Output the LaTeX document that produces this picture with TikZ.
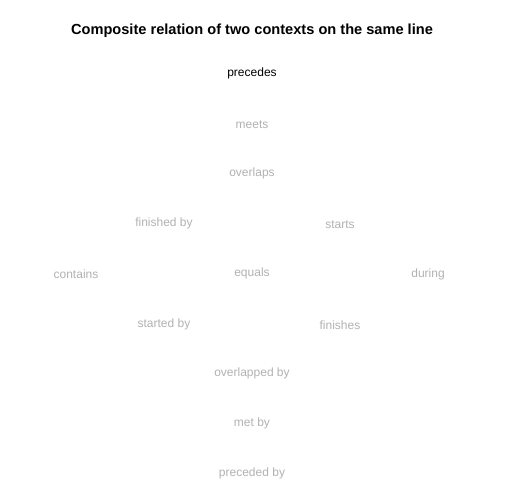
\documentclass[tikz,border=0pt]{standalone}
\usepackage{fontspec}
\setmainfont{Liberation Sans}
\definecolor{lbl}{RGB}{178,178,178}
\begin{document}
\begin{tikzpicture}[x=1bp,y=-1bp,
  rel/.style={font=\fontsize{12bp}{14bp}\selectfont, text=lbl, inner sep=0pt},
  ttl/.style={font=\fontsize{14.6bp}{17bp}\selectfont\bfseries, inner sep=0pt}]
\useasboundingbox[fill=white] (0,0) rectangle (504,504);
\node[ttl] (title) at (252,30.5) {Composite relation of two contexts on the same line};
\node[rel,text=black] (precedes) at (252,73) {precedes};
\node[rel] (meets) at (252,125) {meets};
\node[rel] (overlaps) at (252,173) {overlaps};
\node[rel] (finishedby) at (164,223) {finished by};
\node[rel] (starts) at (340,225) {starts};
\node[rel] (contains) at (76,274) {contains};
\node[rel] (equals) at (252,273) {equals};
\node[rel] (during) at (428,274) {during};
\node[rel] (startedby) at (164,324) {started by};
\node[rel] (finishes) at (340,325) {finishes};
\node[rel] (overlappedby) at (252,373) {overlapped by};
\node[rel] (metby) at (252,423) {met by};
\node[rel] (precededby) at (252,473) {preceded by};
\end{tikzpicture}
\end{document}
